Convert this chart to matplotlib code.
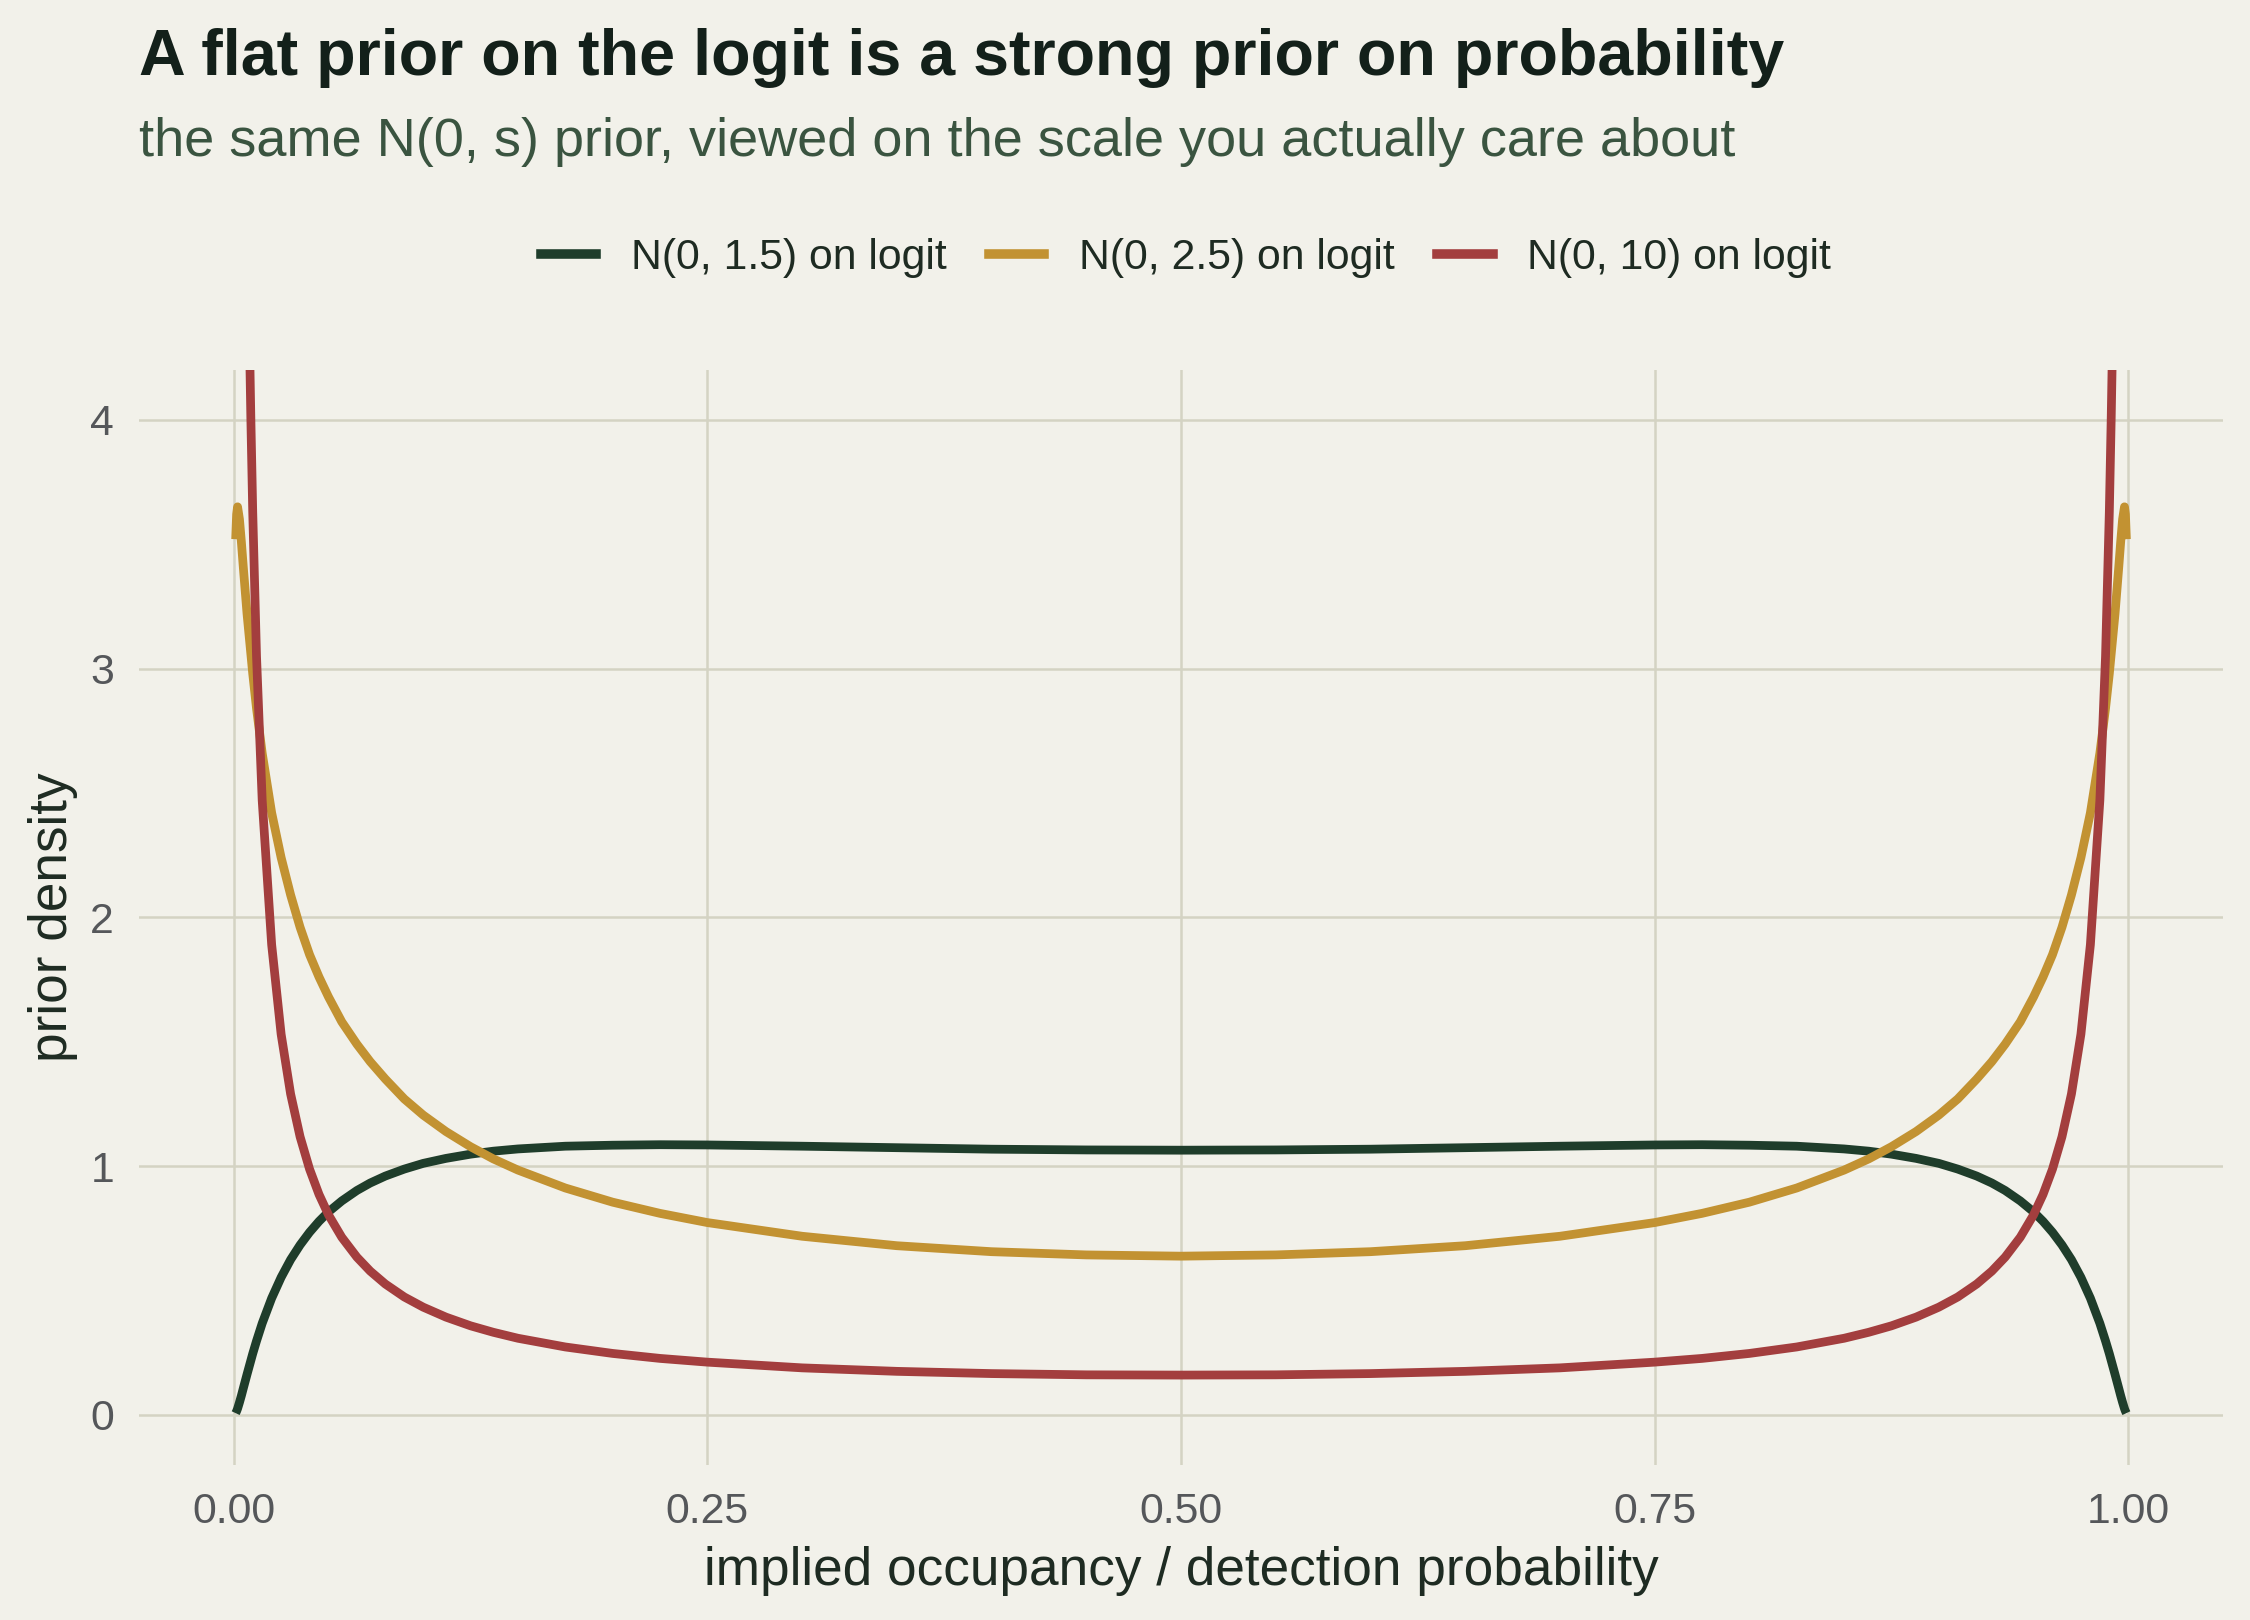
import numpy as np
import matplotlib.pyplot as plt
from matplotlib.lines import Line2D


# probability grid for the two narrower priors
p_grid = [0.001, 0.0015, 0.002, 0.003, 0.004, 0.005, 0.007, 0.01, 0.012, 0.015,
          0.02, 0.025, 0.03, 0.035, 0.04, 0.045, 0.05, 0.057, 0.065, 0.072,
          0.08, 0.09, 0.1, 0.112, 0.125, 0.137, 0.15, 0.175, 0.2, 0.225,
          0.25, 0.3, 0.35, 0.4, 0.45, 0.5,
          0.55, 0.6, 0.65, 0.7, 0.75, 0.775, 0.8, 0.825, 0.85, 0.863,
          0.875, 0.888, 0.9, 0.91, 0.92, 0.928, 0.935, 0.943, 0.95, 0.955,
          0.96, 0.965, 0.97, 0.975, 0.98, 0.985, 0.988, 0.99, 0.993, 0.995,
          0.996, 0.997, 0.998, 0.9985, 0.999]

dens_s15 = [0.007, 0.015, 0.025, 0.050, 0.077, 0.106, 0.163, 0.246, 0.297, 0.368,
            0.469, 0.553, 0.624, 0.683, 0.734, 0.778, 0.816, 0.860, 0.902, 0.932,
            0.960, 0.988, 1.011, 1.031, 1.048, 1.060, 1.069, 1.080, 1.084, 1.086,
            1.085, 1.080, 1.074, 1.068, 1.065, 1.064,
            1.065, 1.068, 1.074, 1.080, 1.085, 1.086, 1.084, 1.080, 1.069, 1.060,
            1.048, 1.031, 1.011, 0.988, 0.960, 0.932, 0.902, 0.860, 0.816, 0.778,
            0.734, 0.683, 0.624, 0.553, 0.469, 0.368, 0.297, 0.246, 0.163, 0.106,
            0.077, 0.050, 0.025, 0.015, 0.007]

dens_s25 = [3.52, 3.62, 3.65, 3.60, 3.51, 3.41, 3.22, 2.98, 2.84, 2.66,
            2.42, 2.24, 2.09, 1.96, 1.85, 1.76, 1.68, 1.58, 1.49, 1.42,
            1.35, 1.27, 1.205, 1.139, 1.078, 1.029, 0.984, 0.912, 0.855, 0.810,
            0.773, 0.718, 0.680, 0.656, 0.643, 0.638,
            0.643, 0.656, 0.680, 0.718, 0.773, 0.810, 0.855, 0.912, 0.984, 1.029,
            1.078, 1.139, 1.205, 1.27, 1.35, 1.42, 1.49, 1.58, 1.68, 1.76,
            1.85, 1.96, 2.09, 2.24, 2.42, 2.66, 2.84, 2.98, 3.22, 3.41,
            3.51, 3.60, 3.65, 3.62, 3.52]

# the wide prior runs off the top of the panel, so its grid starts later
p_grid_s10 = [0.008, 0.0085, 0.009, 0.01, 0.012, 0.015, 0.02, 0.025, 0.03, 0.035,
              0.04, 0.045, 0.05, 0.057, 0.065, 0.072, 0.08, 0.09, 0.1, 0.112,
              0.125, 0.137, 0.15, 0.175, 0.2, 0.225, 0.25, 0.3, 0.35, 0.4,
              0.45, 0.5,
              0.55, 0.6, 0.65, 0.7, 0.75, 0.775, 0.8, 0.825, 0.85, 0.863,
              0.875, 0.888, 0.9, 0.91, 0.92, 0.928, 0.935, 0.943, 0.95, 0.955,
              0.96, 0.965, 0.97, 0.975, 0.98, 0.985, 0.988, 0.99, 0.991, 0.9915,
              0.992]

dens_s10 = [4.48, 4.23, 4.01, 3.63, 3.05, 2.47, 1.89, 1.53, 1.29, 1.118,
            0.988, 0.886, 0.804, 0.714, 0.634, 0.578, 0.526, 0.474, 0.433, 0.393,
            0.358, 0.332, 0.308, 0.273, 0.247, 0.227, 0.212, 0.189, 0.175, 0.166,
            0.161, 0.160,
            0.161, 0.166, 0.175, 0.189, 0.212, 0.227, 0.247, 0.273, 0.308, 0.332,
            0.358, 0.393, 0.433, 0.474, 0.526, 0.578, 0.634, 0.714, 0.804, 0.886,
            0.988, 1.118, 1.29, 1.53, 1.89, 2.47, 3.05, 3.63, 4.01, 4.23,
            4.48]

labels = ['N(0, 1.5) on logit', 'N(0, 2.5) on logit', 'N(0, 10) on logit']
colors = ['#1f3d2b', '#c29232', '#a33e3e']

x_ticks = [0.0, 0.25, 0.5, 0.75, 1.0]
x_ticklabels = ['0.00', '0.25', '0.50', '0.75', '1.00']
y_ticks = [0, 1, 2, 3, 4]

BG = '#f2f1ea'
GRID = '#d4d3c3'

plt.rcParams['font.family'] = ['Liberation Sans', 'DejaVu Sans']

fig = plt.figure(figsize=(15, 10.8), dpi=150, facecolor=BG)
ax = fig.add_axes([0.0618, 0.0959, 0.988 - 0.0618, 0.7716 - 0.0959])
ax.set_facecolor(BG)

series = [(p_grid, dens_s15), (p_grid, dens_s25), (p_grid_s10, dens_s10)]
for (xs, ys), col in zip(series, colors):
    ax.plot(xs, ys, color=col, lw=4.2, solid_joinstyle='round', solid_capstyle='butt', zorder=3)

ax.set_xlim(-0.05, 1.05)
ax.set_ylim(-0.2, 4.2)
ax.set_xticks(x_ticks)
ax.set_xticklabels(x_ticklabels)
ax.set_yticks(y_ticks)
ax.grid(True, color=GRID, lw=1.2)
ax.set_axisbelow(True)
for sp in ax.spines.values():
    sp.set_visible(False)
ax.tick_params(length=0, labelsize=20.5, labelcolor='#55575a')
ax.tick_params(axis='x', pad=13)
ax.tick_params(axis='y', pad=12)

ax.set_xlabel('implied occupancy / detection probability', fontsize=25.5, color='#1e2b22', labelpad=7)
ax.set_ylabel('prior density', fontsize=25.5, color='#1e2b22', labelpad=6)

fig.text(0.0618, 0.954, 'A flat prior on the logit is a strong prior on probability',
         fontsize=31, fontweight='bold', color='#13201a', ha='left', va='baseline')
fig.text(0.0618, 0.904, 'the same N(0, s) prior, viewed on the scale you actually care about',
         fontsize=26, color='#3a5440', ha='left', va='baseline')

handles = [Line2D([0], [0], color=c, lw=4.6) for c in colors]
fig.legend(handles, labels, loc='center', bbox_to_anchor=(0.527, 0.841), ncol=3,
           frameon=False, fontsize=20.5, handlelength=1.3, handletextpad=0.8,
           columnspacing=1.0, labelcolor='#1e2b22')

fig.savefig('out.png', dpi=150, facecolor=BG)
